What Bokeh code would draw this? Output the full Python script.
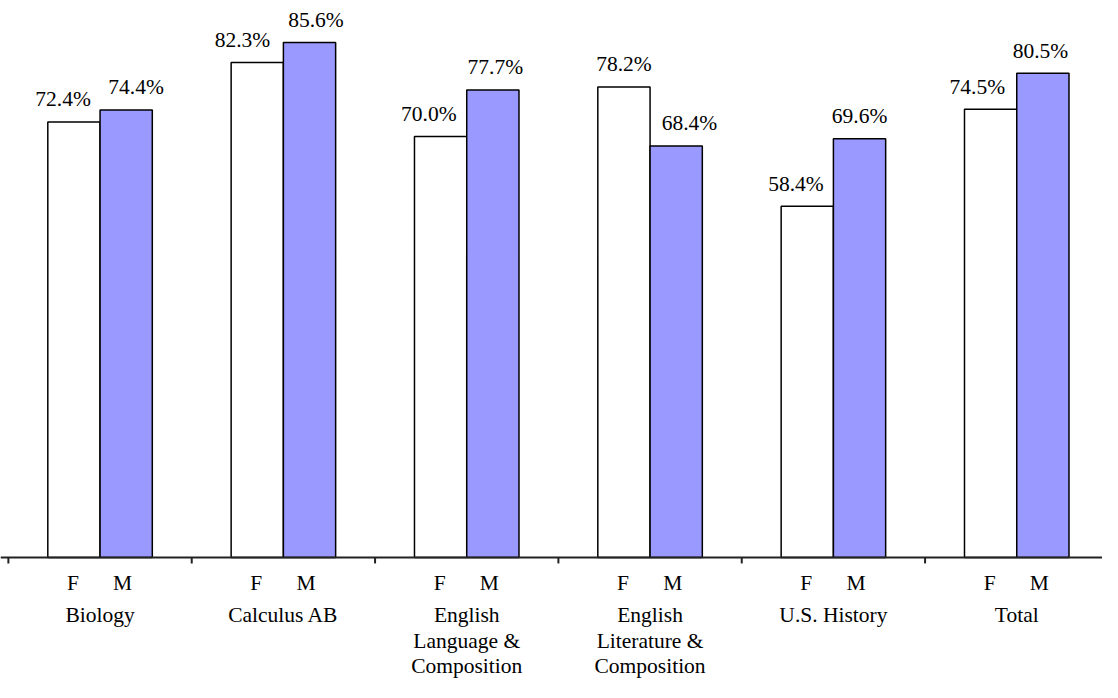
from bokeh.plotting import figure
from bokeh.models import ColumnDataSource, Range1d
from bokeh.core.properties import value
from bokeh.embed import file_html
from bokeh.resources import INLINE

# ---- data ----
categories = ["Biology", "Calculus AB", "English\nLanguage &\nComposition",
              "English\nLiterature &\nComposition", "U.S. History", "Total"]
female = [72.4, 82.3, 70.0, 78.2, 58.4, 74.5]
male = [74.4, 85.6, 77.7, 68.4, 69.6, 80.5]
sub_labels = ["F", "M"]

# ---- layout tweaks (screen px) ----
f_label_dx = [-11, -15, -12, 0, -11.5, -13.5]
m_label_dx = [10, 6.5, 2.5, 13.5, 0, -2.5]

FONT = value("Liberation Serif")
FS = "21.5px"
W, H = 1102, 682
SX = W / 1118.0
SY = H / 698.0
PX_PER_UNIT_X = 186.0 * SX
PX_PER_PCT = 6.156 * SY
X0_SCREEN = 8.0 * SX
AXIS_Y_SCREEN = 570.0 * SY
BASE_FIX = -8.0  # baseline correction

x_start = -X0_SCREEN / PX_PER_UNIT_X
x_end = (W - X0_SCREEN) / PX_PER_UNIT_X
y_top = AXIS_Y_SCREEN / PX_PER_PCT
y_bot = -(H - AXIS_Y_SCREEN) / PX_PER_PCT

p = figure(width=W, height=H, output_backend="svg", toolbar_location=None,
           x_range=Range1d(x_start, x_end), y_range=Range1d(y_bot, y_top),
           x_axis_type=None, y_axis_type=None, min_border=0)
p.outline_line_color = None
p.grid.visible = False
p.background_fill_color = "white"
p.border_fill_color = "white"

n = len(categories)
bw = 0.285
xf = [i + 0.5 - bw / 2 for i in range(n)]
xm = [i + 0.5 + bw / 2 for i in range(n)]

src_f = ColumnDataSource(dict(x=xf, top=female, lab=[f"{v:.1f}%" for v in female],
                              dx=[d * SX for d in f_label_dx]))
src_m = ColumnDataSource(dict(x=xm, top=male, lab=[f"{v:.1f}%" for v in male],
                              dx=[d * SX for d in m_label_dx]))

p.vbar(x="x", top="top", bottom=0, width=bw, source=src_f,
       fill_color="white", line_color="black", line_width=1.5)
p.vbar(x="x", top="top", bottom=0, width=bw, source=src_m,
       fill_color="#9999FF", line_color="black", line_width=1.5)

for src in (src_f, src_m):
    p.text(x="x", y="top", text="lab", source=src, x_offset="dx",
           y_offset=-15 * SY + BASE_FIX,
           text_align="center", text_baseline="alphabetic",
           text_font=FONT, text_font_size=FS, text_color="black")

# axis line and group ticks
p.segment(x0=[x_start], y0=[0], x1=[x_end], y1=[0], line_color="#222222", line_width=2)
p.segment(x0=list(range(n)), y0=[0] * n, x1=list(range(n)), y1=[-6 / PX_PER_PCT] * n,
          line_color="#222222", line_width=2)

# F / M sub labels
p.text(x=xf, y=[0] * n, text=[sub_labels[0]] * n, x_offset=-1, y_offset=34 * SY + BASE_FIX,
       text_align="center", text_baseline="alphabetic",
       text_font=FONT, text_font_size=FS, text_color="black")
p.text(x=xm, y=[0] * n, text=[sub_labels[1]] * n, x_offset=-3.5, y_offset=34 * SY + BASE_FIX,
       text_align="center", text_baseline="alphabetic",
       text_font=FONT, text_font_size=FS, text_color="black")

# category labels, line by line
lx, ly, lt, loff = [], [], [], []
line_offsets = [66.7, 94.0, 119.7]
for i, c in enumerate(categories):
    for j, line in enumerate(c.split("\n")):
        lx.append(i + 0.5)
        ly.append(0)
        lt.append(line)
        loff.append(line_offsets[j] * SY + BASE_FIX)
p.text(x=lx, y=ly, text=lt, y_offset=loff, text_align="center",
       text_baseline="alphabetic", text_font=FONT, text_font_size=FS,
       text_color="black")

open("out.html", "w").write(file_html(p, INLINE))
